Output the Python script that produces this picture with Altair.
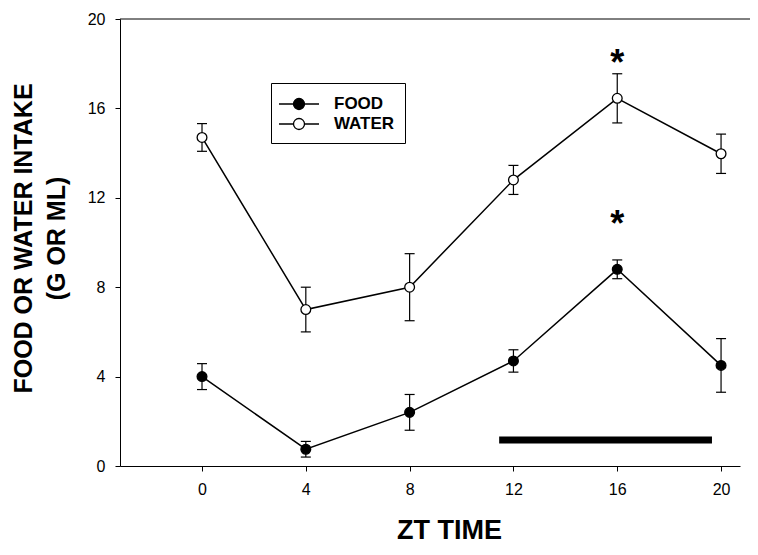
import altair as alt
import pandas as pd

# ---- data ----
zt = [0, 4, 8, 12, 16, 20]
food_mean = [4.0, 0.75, 2.4, 4.7, 8.8, 4.5]
food_sem = [0.58, 0.35, 0.8, 0.5, 0.42, 1.2]
water_mean = [14.7, 7.0, 8.0, 12.8, 16.45, 13.97]
water_sem = [0.62, 1.0, 1.5, 0.65, 1.1, 0.88]
series_names = ["FOOD", "WATER"]
series_fill = ["black", "white"]
star_zt = [16, 16]
star_level = [17.5, 10.3]
dark_start = [11.45]
dark_end = [19.65]
dark_level = [1.16]
x_ticks = [0, 4, 8, 12, 16, 20]
y_ticks = [0, 4, 8, 12, 16, 20]

rows = []
for name, means, sems in [("FOOD", food_mean, food_sem), ("WATER", water_mean, water_sem)]:
    for t, m, s in zip(zt, means, sems):
        rows.append({"zt": t, "series": name, "v": m, "lo": m - s, "hi": m + s})
df = pd.DataFrame(rows)
caps = pd.concat([
    df[["zt", "series", "lo"]].rename(columns={"lo": "v"}),
    df[["zt", "series", "hi"]].rename(columns={"hi": "v"}),
])
stars = pd.DataFrame({"zt": star_zt, "v": star_level})
dark = pd.DataFrame({"zt": dark_start, "zt2": dark_end, "v": dark_level})
top = pd.DataFrame({"v": [20]})

FONT = "Liberation Sans"
LABEL_SIZE = 16
xs = alt.Scale(domain=[-3.16, 20.73], nice=False, zero=False)
ys = alt.Scale(domain=[0, 20], nice=False, zero=True)
X_AX = alt.Axis(values=x_ticks, title="ZT TIME", titleFontSize=27, titleFontWeight="bold",
                titleX=329, titleY=72, titleBaseline="alphabetic", labelPadding=10,
                labelFontSize=LABEL_SIZE, labelFont=FONT, titleFont=FONT, labelColor="black",
                tickSize=5, tickColor="black", domainColor="black", grid=False)
Y_AX = alt.Axis(values=y_ticks, title=["FOOD OR WATER INTAKE", "(G OR ML)"], titleFontSize=25,
                titleFontWeight="bold", titleLineHeight=33, titleX=-109, titleY=219,
                titleBaseline="top", titleAlign="center", titleAngle=270, labelPadding=10,
                labelFontSize=LABEL_SIZE, labelFont=FONT, titleFont=FONT, labelColor="black",
                tickSize=5, tickColor="black", domainColor="black", grid=False)

def X(field="zt"):
    return alt.X(f"{field}:Q", scale=xs, axis=X_AX)

def Y(field="v"):
    return alt.Y(f"{field}:Q", scale=ys, axis=Y_AX)

frame = alt.Chart(top).mark_rule(color="black", strokeWidth=1).encode(
    y=Y(), x=alt.value(0), x2=alt.value(630))

darkbar = alt.Chart(dark).mark_rule(color="black", strokeWidth=7, strokeCap="butt").encode(
    x=X(), x2="zt2:Q", y=Y())

err = alt.Chart(df).mark_rule(color="black", strokeWidth=1.2).encode(
    x=X(), y=Y("lo"), y2="hi:Q")

cap = alt.Chart(caps).mark_tick(color="black", orient="horizontal", size=10, thickness=1.2,
                                opacity=1).encode(x=X(), y=Y())

lines = alt.Chart(df).mark_line(color="black", strokeWidth=1.5).encode(
    x=X(), y=Y(), detail="series:N")

sym = "M-2,0L-0.55,0M0.55,0L2,0M-0.55,0A0.55,0.55 0 1,1 0.55,0A0.55,0.55 0 1,1 -0.55,0Z"
points = alt.Chart(df).mark_point(filled=True, shape="circle", size=95, stroke="black",
                                  strokeWidth=1.3, opacity=1).encode(
    x=X(), y=Y(),
    fill=alt.Fill("series:N", scale=alt.Scale(domain=series_names, range=series_fill),
                  legend=alt.Legend(orient="none", legendX=151, legendY=64, title=" ",
                                    titleOrient="left", titleFontSize=17, titlePadding=7,
                                    padding=10, strokeColor="black", symbolType=sym,
                                    symbolSize=400, symbolStrokeColor="black",
                                    symbolStrokeWidth=1.3, symbolOpacity=1, rowPadding=0,
                                    labelFont=FONT, labelFontSize=17, labelFontWeight="bold",
                                    labelColor="black", labelOffset=24,
                                    labelExpr="datum.label + '\u00a0\u00a0\u00a0\u00a0'")))

asterisks = alt.Chart(stars).mark_text(text="*", fontSize=36, fontWeight="bold", font=FONT,
                                       color="black", baseline="alphabetic", align="center").encode(
    x=X(), y=Y())

chart = alt.layer(frame, darkbar, err, cap, lines, points, asterisks).properties(
    width=620, height=447,
    autosize=alt.AutoSizeParams(type="none"),
    padding={"left": 112, "top": 11, "right": 10, "bottom": 78},
    background="white",
    view=alt.ViewBackground(stroke="transparent", strokeWidth=0),
).configure_view(stroke="transparent", strokeWidth=0).configure_axis(
    grid=False, domainColor="black", tickColor="black", labelColor="black", titleColor="black",
    labelFont=FONT, titleFont=FONT, labelFontSize=LABEL_SIZE, tickSize=5, domainWidth=1, tickWidth=1,
)

chart.save("out.html", embed_options={"renderer": "svg", "actions": False})
